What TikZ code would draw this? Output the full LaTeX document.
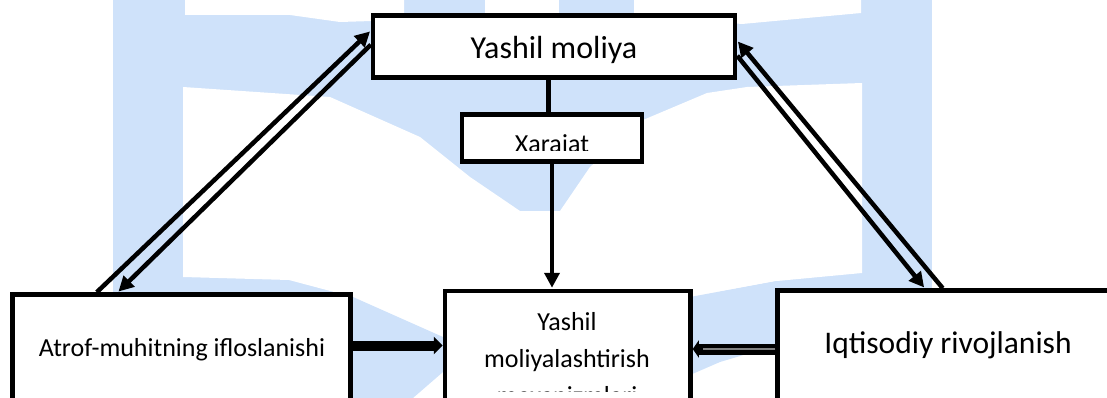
\documentclass[tikz,border=0pt]{standalone}
\usepackage{fontspec}
\setmainfont{Carlito}
\usetikzlibrary{arrows.meta}
\definecolor{wmblue}{RGB}{207,226,250}

\begin{document}
\begin{tikzpicture}[x=1pt, y=-1pt,
  box/.style={draw, line width=4.5pt, fill=white, inner sep=0pt},
  link/.style={line width=4.5pt, -{Triangle[width=15pt,length=15pt]}, shorten >=1pt}]

  \useasboundingbox (0,0) rectangle (1107,398);
  \clip (0,0) rectangle (1107,398);

  % Watermark
  \fill[wmblue] (113,0) rectangle (932,292);
  \fill[white] (185,0) -- (404,0) -- (404,20) -- (340,22) -- (290,15) -- (185,15) -- cycle;
  \fill[white] (485,0) rectangle (559,14);
  \fill[white] (634,0) -- (861,0) -- (861,13) -- (742,24) -- (634,15) -- cycle;
  \fill[white] (183,87) -- (330,97) -- (420,137) -- (470,177) -- (520,211) -- (560,211)
    -- (590,167) -- (643,120) -- (707,93) -- (747,87) -- (862,83) -- (862,273)
    -- (777,281) -- (692,297) -- (443,337) -- (410,317) -- (353,297) -- (289,280)
    -- (183,277) -- cycle;
  \fill[wmblue] (353,297) -- (443,337) -- (443,372) -- (413,398) -- (353,398) -- cycle;
  \fill[wmblue] (690,297) -- (777,281) -- (777,345) -- (720,362) -- (690,375) -- cycle;

  % Yashil moliya
  \node[box, minimum width=362pt, minimum height=62pt] (moliya) at (554,46.5) {};
  \node[anchor=base, font=\fontsize{32}{38}\selectfont] (moliyaText) at (554,59) {Yashil moliya};

  % Xarajat
  \node[box, minimum width=180pt, minimum height=47pt] (xarajat) at (552,138) {};
  \begin{scope}
    \clip (464,117) rectangle (640,151);
    \node[anchor=base, font=\fontsize{26}{31}\selectfont] (xarajatText) at (552,152.7) {Xarajat};
  \end{scope}

  % Bottom boxes
  \node[box, minimum width=338pt, minimum height=150pt] (left) at (181.5,369.5) {};
  \node[anchor=base, font=\fontsize{26}{31}\selectfont] (leftText) at (182,356) {Atrof-muhitning ifloslanishi};

  \node[box, minimum width=245.5pt, minimum height=150pt] (middle) at (567.75,366) {};
  \begin{scope}
    \clip (448,294) rectangle (688,391);
    \node[anchor=base, align=center, font=\fontsize{26}{37}\selectfont] (middleText) at (567,404)
      {Yashil\\moliyalashtirish\\mexanizmlari};
  \end{scope}

  \node[box, minimum width=400pt, minimum height=150pt] (right) at (977.5,365.5) {};
  \node[anchor=base, font=\fontsize{31.5}{37}\selectfont] (rightText) at (948,353) {Iqtisodiy rivojlanish};

  % Vertical links
  \draw[line width=5pt] ([xshift=-5.5pt]moliya.south) -- ([xshift=-3.5pt]xarajat.north);
  \draw[line width=4pt, -{Triangle[width=15pt,length=15pt]}, shorten >=1pt]
    (xarajat.south) -- ([xshift=-15.75pt]middle.north);

  % Left pair
  \draw[link] ([xshift=86.5pt]left.north west) -- ([yshift=-17.5pt]moliya.north west);
  \draw[link] ([yshift=-31.5pt]moliya.north west) -- ([xshift=107.5pt]left.north west);

  % Right pair
  \draw[link] ([xshift=167.5pt]right.north west) -- ([yshift=-27.5pt]moliya.north east);
  \draw[link] ([yshift=-42.5pt]moliya.north east) -- ([xshift=149.5pt]right.north west);

  % Horizontal links
  \draw[line width=10pt, -{Triangle[width=17pt,length=9pt]}]
    ([yshift=24pt]left.east) -- ([yshift=20.5pt]middle.west);
  \draw[line width=11pt, -{Triangle[width=17pt,length=6pt]}]
    ([yshift=16.5pt]right.west) -- ([yshift=17pt]middle.east);
  \draw[gray, line width=1.2pt] ([yshift=16.5pt]right.west) -- ([yshift=17pt,xshift=10pt]middle.east);

\end{tikzpicture}
\end{document}
